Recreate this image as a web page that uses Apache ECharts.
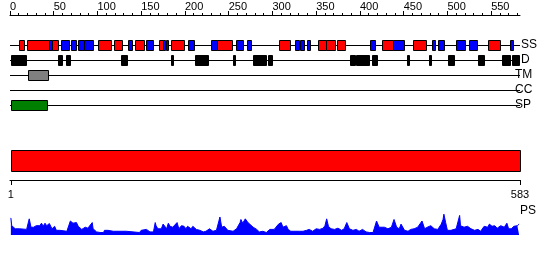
<!DOCTYPE html>
<html>
<head>
<meta charset="utf-8">
<script src="https://cdn.jsdelivr.net/npm/echarts@6/dist/echarts.min.js"></script>
<style>html,body{margin:0;padding:0;background:#fff}#c{width:550px;height:260px}</style>
</head>
<body>
<div id="c"></div>
<script>
const seqLength = 583;
const topTickLabels = [0,50,100,150,200,250,300,350,400,450,500,550];
const minorTicks = [10,20,30,40,60,70,80,90,110,120,130,140,160,170,180,190,210,220,230,240,260,270,280,290,310,320,330,340,360,370,380,390,410,420,430,440,460,470,480,490,510,520,530,540,560,570,580];
const endLabels = [1, 583];
const trackNames = ['SS','D','TM','CC','SP'];

const helices = [[10,16],[19,45],[48,55],[101,115],[119,128],[143,153],[170,175],[184,199],[237,254],[307,320],[352,361],[361,372],[374,383],[425,438],[461,476],[546,560]];
const strands = [[45,48],[58,67],[70,75],[78,85],[85,95],[135,139],[156,163],[175,177],[178,181],[203,210],[230,237],[258,266],[271,275],[326,330],[332,336],[340,343],[412,417],[438,450],[482,486],[489,496],[510,520],[525,534],[572,575]];
const disorder = [[1,18],[55,60],[64,69],[127,134],[184,186],[212,226],[255,257],[278,293],[295,300],[389,394],[395,410],[414,419],[454,456],[479,481],[501,508],[535,542],[562,571],[574,582]];
const transmembrane = [[21,43]];
const coiledCoil = [];
const signalPeptide = [[1,42]];
const domains = [[1,583]];

const psPos = [1,2,4,6,11,13,19,22,24,27,29,30,32,34,36,38,40,42,45,48,51,53,57,59,65,67,69,72,74,76,78,80,82,86,88,89,91,94,95,99,103,107,108,110,112,114,118,133,135,148,150,152,156,160,164,166,167,169,171,173,175,177,179,181,183,186,191,193,196,199,201,203,205,207,209,213,217,221,224,228,232,236,240,242,244,245,249,255,259,263,264,266,269,272,274,278,282,285,289,293,297,302,304,307,310,312,316,318,321,331,335,339,342,346,350,354,358,360,362,364,367,371,375,379,382,385,388,392,396,399,403,407,411,415,419,422,424,428,432,436,439,442,445,447,451,455,458,462,466,471,474,477,481,485,489,493,495,496,498,500,504,510,514,515,519,523,527,531,535,538,542,544,546,548,551,554,557,561,565,568,570,573,576,580,582];
const psVal = [55,30,30,20,20,18,18,52,25,25,30,30,35,30,38,28,38,30,37,20,28,15,15,12,12,18,45,38,42,40,28,25,18,25,30,22,28,40,20,10,8,8,15,18,15,18,12,12,8,8,15,10,18,10,10,40,30,20,25,20,35,28,20,38,28,25,40,20,30,28,20,28,22,20,28,18,15,10,12,20,12,15,58,25,20,28,15,12,20,40,50,38,52,40,38,25,18,10,12,8,18,18,25,35,40,25,30,18,12,12,12,15,18,12,20,18,22,30,52,28,20,18,22,15,20,40,20,15,18,12,18,10,8,8,45,25,22,25,20,25,50,25,20,35,15,12,18,20,25,45,20,25,30,20,18,35,50,67,40,15,15,20,63,30,25,28,20,15,18,12,28,30,25,35,28,30,22,30,25,38,20,20,28,30,35];

const font = 'Liberation Sans';
const chart = echarts.init(document.getElementById('c'), null, {renderer: 'canvas'});

function boxes(list, track, color) {
  return list.map(d => [d[0], d[1], track, color]);
}
const trackData = [].concat(
  boxes(helices, 0, '#ff0000'),
  boxes(strands, 0, '#0000ff'),
  boxes(disorder, 1, '#000000'),
  boxes(transmembrane, 2, '#808080'),
  boxes(coiledCoil, 3, '#ffff00'),
  boxes(signalPeptide, 4, '#008000')
);

function renderBox(params, api) {
  const s = api.coord([api.value(0), api.value(2)]);
  const e = api.coord([api.value(1), api.value(2)]);
  const x0 = Math.round(s[0]) + 0.5;
  const x1 = Math.round(e[0]) + 0.5;
  const y0 = Math.round(s[1]) - 5 + 0.5;
  return {
    type: 'rect',
    shape: {x: x0, y: y0, width: Math.max(1, x1 - x0), height: 10},
    style: {fill: api.value(3), stroke: '#000', lineWidth: 1}
  };
}

function renderDomain(params, api) {
  const s = api.coord([api.value(0), 1]);
  const e = api.coord([api.value(1), 0]);
  const x0 = Math.round(s[0]) + 0.5, y0 = Math.round(s[1]) + 0.5;
  const x1 = Math.round(e[0]) + 0.5, y1 = Math.round(e[1]) + 0.5;
  return {
    type: 'rect',
    shape: {x: x0, y: y0, width: x1 - x0, height: y1 - y0},
    style: {fill: '#ff0000', stroke: '#000', lineWidth: 1}
  };
}

const xBase = {min: 0, max: seqLength, type: 'value'};

chart.setOption({
  animation: false,
  textStyle: {fontFamily: font, fontSize: 11, color: '#000'},
  grid: [
    {left: 10, right: 30, top: 45, height: 60},
    {left: 10, right: 30, top: 150, height: 21},
    {left: 10, right: 30, top: 212, height: 23}
  ],
  xAxis: [
    Object.assign({}, xBase, {
      gridIndex: 0, position: 'top', offset: 30,
      axisLine: {show: true, onZero: false, lineStyle: {color: '#000', width: 1}},
      axisTick: {show: true, length: 4, lineStyle: {color: '#000'}, customValues: topTickLabels},
      axisLabel: {show: true, align: 'left', margin: 3, color: '#000', fontFamily: font, fontSize: 11, customValues: topTickLabels},
      splitLine: {show: false}
    }),
    Object.assign({}, xBase, {
      gridIndex: 0, position: 'top', offset: 30,
      axisLine: {show: false, onZero: false},
      axisTick: {show: true, length: 2, lineStyle: {color: '#000'}, customValues: minorTicks},
      axisLabel: {show: false},
      splitLine: {show: false}
    }),
    Object.assign({}, xBase, {
      gridIndex: 1, position: 'bottom', offset: 9,
      axisLine: {show: true, onZero: false, lineStyle: {color: '#000', width: 1}},
      axisTick: {show: true, length: 5, lineStyle: {color: '#000'}, customValues: endLabels},
      axisLabel: {show: true, margin: 9, color: '#000', fontFamily: font, fontSize: 11, customValues: endLabels},
      splitLine: {show: false}
    }),
    Object.assign({}, xBase, {gridIndex: 2, show: false})
  ],
  yAxis: [
    {
      gridIndex: 0, type: 'category', data: trackNames, inverse: true, boundaryGap: false,
      position: 'right',
      axisLine: {show: false, onZero: false}, axisTick: {show: false},
      axisLabel: {show: true, interval: 0, align: 'left', margin: -5, color: '#000', fontFamily: font, fontSize: 12,
        formatter: v => (v === 'SS' || v === 'D') ? '{p|' + v + '}' : v,
        rich: {p: {padding: [0, 0, 0, 6], fontFamily: font, fontSize: 12, color: '#000'}}},
      splitLine: {show: true, interval: 0, lineStyle: {color: '#000', width: 1}}
    },
    {gridIndex: 1, type: 'value', min: 0, max: 1, show: false},
    {
      gridIndex: 2, type: 'value', min: 0, max: 74, position: 'right',
      name: 'PS', nameLocation: 'end', nameGap: 1,
      nameTextStyle: {align: 'left', verticalAlign: 'middle', color: '#000', fontFamily: font, fontSize: 12},
      axisLine: {show: false, onZero: false}, axisTick: {show: false}, axisLabel: {show: false}, splitLine: {show: false}
    }
  ],
  series: [
    {
      type: 'custom', xAxisIndex: 0, yAxisIndex: 0,
      renderItem: renderBox, data: trackData, encode: {x: [0, 1], y: 2}, clip: false
    },
    {
      type: 'custom', xAxisIndex: 2, yAxisIndex: 1,
      renderItem: renderDomain, data: domains, encode: {x: [0, 1]}, clip: false
    },
    {
      type: 'line', xAxisIndex: 3, yAxisIndex: 2,
      data: psPos.map((p, i) => [p, psVal[i]]),
      symbol: 'none', smooth: false,
      lineStyle: {color: '#0000ff', width: 1},
      areaStyle: {color: '#0000ff', opacity: 1},
      itemStyle: {color: '#0000ff'}
    }
  ]
});
</script>
</body>
</html>
